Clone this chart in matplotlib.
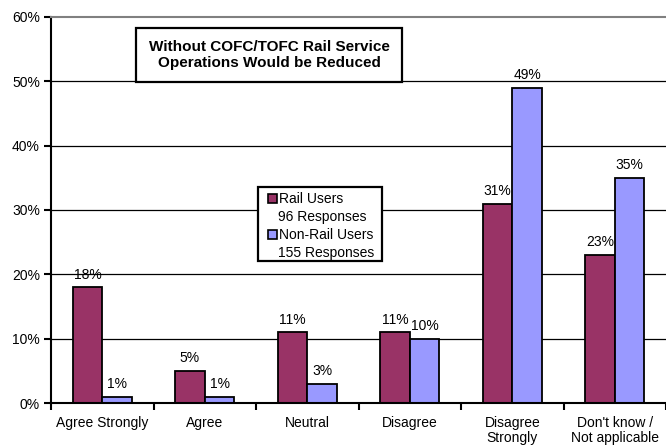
import matplotlib
matplotlib.use("Agg")
import matplotlib.pyplot as plt
from matplotlib.patches import Rectangle
import numpy as np

plt.rcParams['font.family'] = ['Liberation Sans', 'DejaVu Sans']

categories = ["Agree Strongly", "Agree", "Neutral", "Disagree",
              "Disagree\nStrongly", "Don't know /\nNot applicable"]
rail_users = [18, 5, 11, 11, 31, 23]
non_rail_users = [1, 1, 3, 10, 49, 35]
series_names = ["Rail Users", "Non-Rail Users"]
series_notes = ["96 Responses", "155 Responses"]
series_colors = ["#993366", "#9999FF"]
title_text = "Without COFC/TOFC Rail Service\nOperations Would be Reduced"
y_ticks = [0, 10, 20, 30, 40, 50, 60]

W, H = 666, 448
fig = plt.figure(figsize=(W / 100, H / 100), dpi=100)
ax = fig.add_axes([51 / W, 1 - 403 / H, 615 / W, (403 - 17) / H])


def fx(px):
    return px / W


def fy(py):
    return 1 - py / H


x = np.arange(len(categories))
w = 0.29
b1 = ax.bar(x - w / 2, rail_users, w, color=series_colors[0], edgecolor="black",
            linewidth=1.3, zorder=3)
b2 = ax.bar(x + w / 2, non_rail_users, w, color=series_colors[1], edgecolor="black",
            linewidth=1.3, zorder=3)

for bars, vals in ((b1, rail_users), (b2, non_rail_users)):
    for rect, v in zip(bars, vals):
        ax.annotate(f"{v}%", (rect.get_x() + rect.get_width() / 2, v),
                    xytext=(0, 4), textcoords="offset points",
                    ha="center", va="bottom", fontsize=10, zorder=4)

ax.set_xlim(-0.5, len(categories) - 0.5)
ax.set_ylim(0, 60)
ax.set_yticks(y_ticks)
ax.set_yticklabels([f"{t}%" for t in y_ticks], fontsize=10)
for t in y_ticks[1:-1]:
    ax.axhline(t, color="black", linewidth=0.9, zorder=1)

# category separators as x ticks, labels centred under each group
ax.set_xticks(np.arange(len(categories) + 1) - 0.5)
ax.set_xticklabels([])
ax.set_xticks(x, minor=True)
ax.set_xticklabels(categories, minor=True, fontsize=10, linespacing=1.15)
ax.tick_params(axis="x", which="minor", length=0, pad=9)
ax.tick_params(axis="x", which="major", length=5, width=1.5, direction="out")
ax.tick_params(axis="y", length=5, width=1.5, direction="out", pad=3)

ax.spines["right"].set_visible(False)
ax.spines["top"].set_color("#808080")
ax.spines["top"].set_linewidth(1.5)
ax.spines["left"].set_linewidth(1.5)
ax.spines["bottom"].set_linewidth(1.5)
ax.spines["bottom"].set_zorder(5)

# title box
fig.patches.append(Rectangle((fx(136), fy(82)), fx(402) - fx(136), fy(28) - fy(82),
                             transform=fig.transFigure, facecolor="white",
                             edgecolor="black", linewidth=1.6, zorder=6))
fig.text(fx(269), fy(55), title_text, ha="center", va="center", fontsize=11,
         fontweight="bold", linespacing=1.2, zorder=7)

# legend box
fig.patches.append(Rectangle((fx(258), fy(261)), fx(382) - fx(258), fy(187) - fy(261),
                             transform=fig.transFigure, facecolor="white",
                             edgecolor="black", linewidth=1.6, zorder=6))
for i, (name, note, col) in enumerate(zip(series_names, series_notes, series_colors)):
    top = 193 + 36 * i
    fig.patches.append(Rectangle((fx(268), fy(top + 10)), fx(277) - fx(268),
                                 fy(top + 1) - fy(top + 10),
                                 transform=fig.transFigure, facecolor=col,
                                 edgecolor="black", linewidth=1.2, zorder=7))
    fig.text(fx(279), fy(top + 6), name, ha="left", va="center", fontsize=10, zorder=7)
    fig.text(fx(278), fy(top + 24), note, ha="left", va="center", fontsize=10, zorder=7)

fig.savefig("out.png", dpi=100)
